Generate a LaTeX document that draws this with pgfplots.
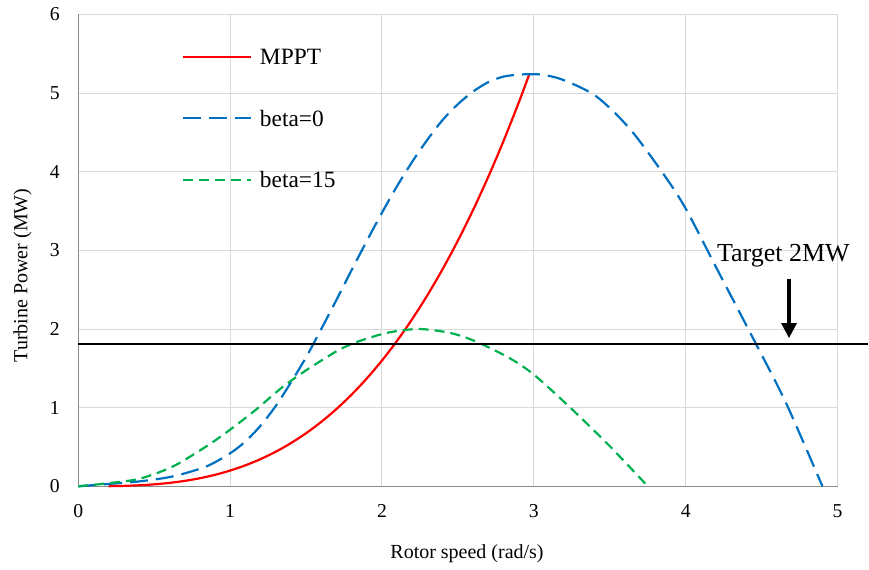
\documentclass[border=0pt]{standalone}
\usepackage{fontspec}
\setmainfont{Liberation Serif}
\usepackage{pgfplots}
\pgfplotsset{compat=1.18}
\usetikzlibrary{arrows.meta}
\definecolor{cred}{RGB}{255,0,0}
\definecolor{cblue}{RGB}{0,112,192}
\definecolor{cgreen}{RGB}{0,176,80}
\definecolor{gridc}{RGB}{217,217,217}
\definecolor{axc}{RGB}{140,140,140}
\begin{document}
\begin{tikzpicture}
\begin{axis}[
  scale only axis,
  width=380pt, height=236.1pt,
  xmin=0, xmax=5, ymin=0, ymax=6,
  xtick={0,1,2,3,4,5}, ytick={0,1,2,3,4,5,6},
  clip=false,
  axis x line*=bottom, axis y line*=left,
  axis line style={-, draw=axc, line width=0.6pt},
  every outer x axis line/.append style={-},
  every outer y axis line/.append style={-},
  grid=major,
  major grid style={draw=gridc, line width=0.5pt},
  major tick length=0pt,
  /pgf/number format/assume math mode=true,
  tick label style={font=\rmfamily\fontsize{9.85}{11}\selectfont, text=black},
  xticklabel style={yshift=-5.7pt},
  yticklabel style={xshift=-5.7pt},
  label style={font=\rmfamily\fontsize{10.8}{12}\selectfont},
  xlabel={Rotor speed (rad/s)},
  ylabel={Turbine Power (MW)},
  every axis x label/.style={at={(rel axis cs:0.512,-0.1539)}, anchor=base},
  every axis y label/.style={at={(rel axis cs:-0.0671,0.447)}, rotate=90, anchor=base},
  legend cell align=left,
  legend style={draw=none, fill=none, at={(axis cs:0.6822,5.558)}, anchor=north west,
    inner sep=0pt, outer sep=0pt, row sep=22.75pt, column sep=4pt,
    font=\rmfamily\fontsize{11.7}{13}\selectfont,
    nodes={inner sep=0pt, text depth=0pt}},
  legend image code/.code={\draw[#1] (0pt,0pt) -- (34pt,0pt);},
]
\addplot[cred, line width=1.1pt, smooth] coordinates {
(0.2,0.0016) (0.3,0.0054) (0.4,0.0128) (0.5,0.025) (0.6,0.0432) (0.7,0.0686)
(0.8,0.1024) (0.9,0.1458) (1.0,0.2) (1.1,0.2662) (1.2,0.3456) (1.3,0.4394)
(1.4,0.5488) (1.5,0.675) (1.6,0.8192) (1.7,0.9826) (1.8,1.1664) (1.9,1.3718)
(2.0,1.6) (2.1,1.8522) (2.2,2.1296) (2.3,2.4334) (2.4,2.7648) (2.5,3.125)
(2.6,3.5152) (2.7,3.9366) (2.8,4.3904) (2.9,4.8778) (2.97,5.24)
};
\addlegendentry{MPPT}
\addplot[cblue, line width=1.1pt, dash pattern=on 9pt off 4pt, smooth] coordinates {
(0,0) (0.2,0.03) (0.41,0.064) (0.625,0.127) (0.845,0.254) (1.0,0.42) (1.1,0.57)
(1.2,0.77) (1.3,1.02) (1.4,1.32) (1.5,1.64) (1.6,2.0) (1.7,2.37) (1.8,2.75)
(1.9,3.12) (2.0,3.48) (2.1,3.82) (2.2,4.13) (2.3,4.41) (2.4,4.66) (2.5,4.86)
(2.6,5.02) (2.7,5.14) (2.8,5.21) (2.9,5.235) (2.97,5.24) (3.05,5.235)
(3.19,5.17) (3.41,4.96) (3.63,4.55) (3.85,3.98) (4.0,3.53) (4.22,2.71)
(4.46,1.82) (4.66,1.06) (4.9,0)
};
\addlegendentry{beta=0}
\addplot[cgreen, line width=1.1pt, dash pattern=on 5pt off 3pt, smooth] coordinates {
(0,0) (0.2,0.04) (0.407,0.098) (0.625,0.254) (0.845,0.51) (1.0,0.72) (1.17,0.975)
(1.35,1.27) (1.52,1.50) (1.72,1.74) (1.81,1.82) (2.03,1.95) (2.24,2.0) (2.45,1.95)
(2.62,1.84) (2.84,1.63) (3.0,1.42) (3.24,1.0) (3.5,0.51) (3.75,0)
};
\addlegendentry{beta=15}
\addplot[black, line width=1pt, forget plot] coordinates {(0,1.813) (5.2,1.813)};
\draw[black, line width=1.6pt, -{Triangle[length=7.5pt,width=7.5pt]}] (axis cs:4.68,2.64) -- (axis cs:4.68,1.885);
\node[anchor=base, inner sep=0pt, font=\rmfamily\fontsize{13}{15}\selectfont] at (axis cs:4.643,2.855) {Target 2MW};
\path (axis cs:-0.5151,-1.0584) rectangle (axis cs:5.2020,6.1842);
\end{axis}
\end{tikzpicture}
\end{document}
